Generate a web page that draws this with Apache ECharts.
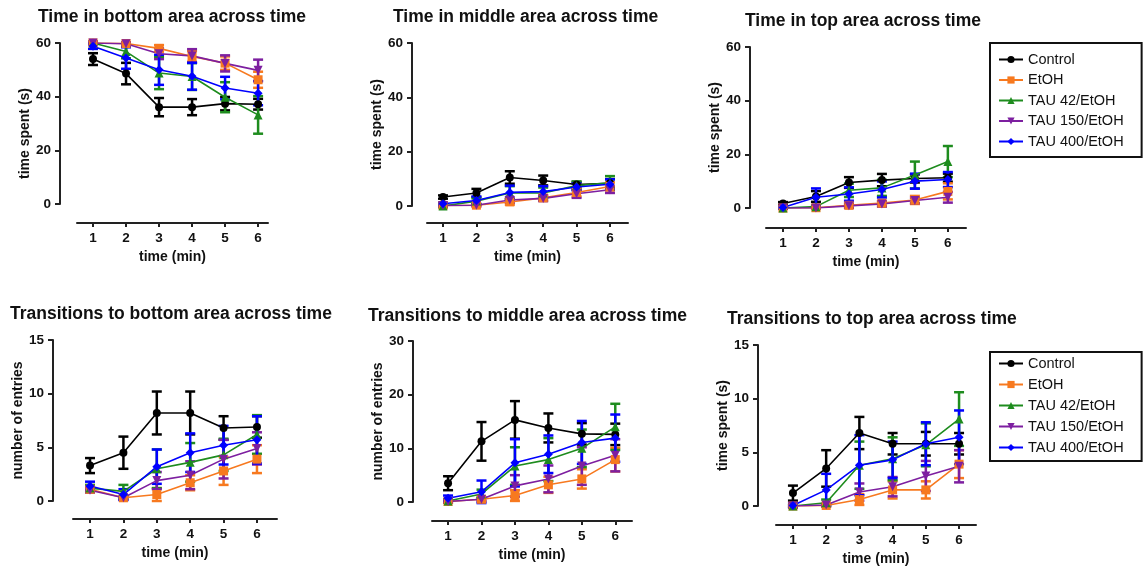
<!DOCTYPE html>
<html>
<head>
<meta charset="utf-8">
<script src="https://cdn.jsdelivr.net/npm/echarts@6/dist/echarts.min.js"></script>
<style>
  html, body { margin: 0; padding: 0; background: #fff; }
  #chart { width: 1144px; height: 570px; }
</style>
</head>
<body>
<div id="chart"></div>
<script>
"use strict";

const groups = ["Control", "EtOH", "TAU 42/EtOH", "TAU 150/EtOH", "TAU 400/EtOH"];
const minutes = [1, 2, 3, 4, 5, 6];

// Time in bottom area (s): means and SEM, one row per group
const bottomTimeMean = [
  [54, 48.6, 36.1, 36.1, 37.4, 37.2],
  [60, 59.8, 58, 55, 52.5, 46.3],
  [60, 56.8, 48.8, 47.5, 39.8, 33.2],
  [60, 59.7, 56, 55.2, 52.4, 49.8],
  [58.8, 54.4, 50, 47.6, 43.2, 41.3]
];
const bottomTimeErr = [
  [2.2, 4, 3.4, 3, 2.5, 2],
  [0.4, 0.5, 1.2, 2, 2.5, 3],
  [0.5, 2.5, 6, 5, 5.6, 7],
  [0.5, 0.6, 2, 2.5, 3, 4],
  [1, 4, 5.6, 5, 4.2, 4.5]
];

// Time in middle area (s)
const middleTimeMean = [
  [3.3, 4.8, 10.5, 9.4, 7.9, 8.4],
  [0.2, 0.3, 1.5, 3, 5, 7.2],
  [0, 1.8, 4.8, 4.8, 7.5, 8.5],
  [0.2, 0.3, 2.2, 2.8, 4.5, 6],
  [0.8, 2, 5, 5.3, 7, 8]
];
const middleTimeErr = [
  [0.6, 1.5, 2.3, 1.8, 1, 1.5],
  [0.3, 0.4, 1, 1, 1.5, 1.5],
  [0.5, 1, 2.5, 2, 1.5, 2.5],
  [0.3, 0.4, 1, 1, 1.5, 1.2],
  [0.5, 1.5, 2.5, 2, 1.3, 1.8]
];

// Time in top area (s)
const topTimeMean = [
  [1.7, 4.3, 9.5, 10.4, 11, 11.3],
  [0, 0.1, 1, 1.8, 3, 6.2],
  [0, 0.5, 6.6, 7.5, 12.3, 17.3],
  [0, 0, 0.8, 1.5, 2.8, 4],
  [0.2, 4, 5.2, 6.9, 10, 10.6]
];
const topTimeErr = [
  [0.5, 2, 2, 2.3, 1.5, 1.5],
  [0.2, 0.3, 0.8, 0.8, 1.5, 3],
  [0.2, 0.5, 2.5, 3, 5, 5.8],
  [0.2, 0.2, 0.8, 1, 1, 2],
  [0.5, 3.3, 2.5, 3, 2.8, 2.8]
];

// Transitions to bottom area (entries)
const bottomTransMean = [
  [3.3, 4.5, 8.2, 8.2, 6.8, 6.9],
  [1.1, 0.3, 0.6, 1.7, 2.8, 3.9],
  [1.2, 0.9, 3, 3.6, 4.3, 6.2],
  [1, 0.3, 1.9, 2.4, 3.9, 4.9],
  [1.4, 0.6, 3.2, 4.5, 5.2, 5.7]
];
const bottomTransErr = [
  [0.7, 1.5, 2, 2, 1.1, 1],
  [0.3, 0.1, 0.6, 0.7, 1.3, 1.3],
  [0.3, 0.6, 1.8, 1.8, 1.5, 1.8],
  [0.2, 0.2, 0.8, 1.3, 1.8, 1.5],
  [0.4, 0.5, 1.6, 1.8, 1.8, 2.2]
];

// Transitions to middle area (entries)
const middleTransMean = [
  [3.5, 11.3, 15.3, 13.8, 12.7, 12.6],
  [0.1, 0.5, 1.2, 3.2, 4.3, 7.9],
  [0.2, 1.5, 6.7, 7.9, 10, 14],
  [0.1, 0.5, 3, 4.3, 6.7, 8.7],
  [0.7, 1.9, 7.3, 8.9, 11.1, 11.9]
];
const middleTransErr = [
  [1.3, 3.6, 3.5, 2.7, 2, 2],
  [0.2, 0.4, 1, 1.5, 1.8, 2.2],
  [0.3, 0.8, 3.5, 4, 3.5, 4.3],
  [0.2, 0.3, 2, 2.5, 3.5, 3],
  [0.5, 2.1, 4.4, 3.5, 4, 4.4]
];

// Transitions to top area
const topTransMean = [
  [1.2, 3.5, 6.8, 5.8, 5.8, 5.8],
  [0, 0.05, 0.6, 1.5, 1.5, 3.9],
  [0, 0.3, 3.8, 4.4, 5.7, 8.1],
  [0, 0.1, 1.3, 1.8, 2.8, 3.7],
  [0.05, 1.5, 3.8, 4.3, 5.8, 6.4]
];
const topTransErr = [
  [0.7, 1.7, 1.5, 1, 1.1, 1],
  [0.1, 0.1, 0.5, 0.8, 0.8, 1.3],
  [0.1, 0.3, 2.2, 2, 2, 2.5],
  [0.1, 0.1, 0.8, 0.9, 1.4, 1.5],
  [0.2, 1.5, 2.8, 1.7, 2, 2.5]
];

const colors = ["#000000", "#f7791f", "#1e8c1e", "#7d1fa0", "#0000ff"];
const symbols = ["circle", "rect", "triangle", "triangle", "diamond"];
const symbolRotates = [0, 0, 0, 180, 0];

// panel layout: grid box, axis offsets, ranges
const panels = [
  { title: "Time in bottom area across time", tx: 38, ty: 8.5, yName: "time spent (s)", ymax: 60, yint: 20,
    left: 77, top: 43, width: 191, height: 161, yOff: 17, xOff: 19, xmin: 0.515, xmax: 6.3, namePad: 20, nameGap: 26.5,
    mean: bottomTimeMean, err: bottomTimeErr },
  { title: "Time in middle area across time", tx: 393, ty: 8.5, yName: "time spent (s)", ymax: 60, yint: 20,
    left: 427, top: 43, width: 201, height: 163, yOff: 15, xOff: 17, xmin: 0.52, xmax: 6.54, namePad: 0, nameGap: 26,
    mean: middleTimeMean, err: middleTimeErr },
  { title: "Time in top area across time", tx: 745, ty: 12.5, yName: "time spent (s)", ymax: 60, yint: 20,
    left: 766, top: 47, width: 200, height: 161, yOff: 16, xOff: 20, xmin: 0.485, xmax: 6.55, namePad: 0, nameGap: 26,
    mean: topTimeMean, err: topTimeErr },
  { title: "Transitions to bottom area across time", tx: 10, ty: 305.5, yName: "number of entries", ymax: 15, yint: 5,
    left: 73, top: 340, width: 204, height: 161, yOff: 20, xOff: 18, xmin: 0.49, xmax: 6.6, namePad: 0, nameGap: 23,
    mean: bottomTransMean, err: bottomTransErr },
  { title: "Transitions to middle area across time", tx: 368, ty: 307.5, yName: "number of entries", ymax: 30, yint: 10,
    left: 432, top: 341, width: 200, height: 161, yOff: 19, xOff: 19, xmin: 0.52, xmax: 6.5, namePad: 0, nameGap: 24,
    mean: middleTransMean, err: middleTransErr },
  { title: "Transitions to top area across time", tx: 727, ty: 310.5, yName: "time spent (s)", ymax: 15, yint: 5,
    left: 776, top: 345, width: 200, height: 161, yOff: 18, xOff: 19, xmin: 0.49, xmax: 6.51, namePad: 0, nameGap: 25,
    mean: topTransMean, err: topTransErr }
];

const font = "'Liberation Sans', Arial, sans-serif";
const axisLine = { show: true, onZero: false, lineStyle: { color: "#222", width: 2 } };

function errorBar(params, api) {
  const x = api.value(0);
  const m = api.value(1);
  const e = api.value(2);
  const hi = api.coord([x, m + e]);
  const lo = api.coord([x, m - e]);
  const w = 5;
  const style = { stroke: api.visual("color"), lineWidth: 2.5 };
  return {
    type: "group",
    children: [
      { type: "line", shape: { x1: hi[0], y1: hi[1], x2: lo[0], y2: lo[1] }, style: style },
      { type: "line", shape: { x1: hi[0] - w, y1: hi[1], x2: hi[0] + w, y2: hi[1] }, style: style },
      { type: "line", shape: { x1: lo[0] - w, y1: lo[1], x2: lo[0] + w, y2: lo[1] }, style: style }
    ]
  };
}

const titles = [], grids = [], xAxes = [], yAxes = [], series = [];

panels.forEach(function (p, i) {
  titles.push({
    text: p.title, left: p.tx, top: p.ty, padding: 0,
    textStyle: { fontFamily: font, fontSize: 17.5, fontWeight: "bold", color: "#111" }
  });
  grids.push({ left: p.left, top: p.top, width: p.width, height: p.height });
  xAxes.push({
    type: "value", gridIndex: i, min: p.xmin, max: p.xmax, offset: p.xOff,
    name: "time (min)", nameLocation: "middle", nameGap: 27,
    nameTextStyle: { fontFamily: font, fontSize: 14, fontWeight: "bold", color: "#111" },
    axisLine: axisLine,
    axisTick: { show: true, length: 4, lineStyle: { color: "#222", width: 2 }, customValues: minutes },
    axisLabel: { fontFamily: font, fontSize: 13.5, fontWeight: "bold", color: "#111", margin: 8, customValues: minutes },
    splitLine: { show: false }
  });
  yAxes.push({
    type: "value", gridIndex: i, min: 0, max: p.ymax, interval: p.yint, offset: p.yOff,
    name: p.yName, nameLocation: "middle", nameGap: p.nameGap, nameRotate: 90,
    nameTextStyle: { fontFamily: font, fontSize: 14, fontWeight: "bold", color: "#111",
      padding: [0, p.namePad, 0, 0] },
    axisLine: axisLine,
    axisTick: { show: true, length: 5, lineStyle: { color: "#222", width: 2 } },
    axisLabel: { fontFamily: font, fontSize: 13.5, fontWeight: "bold", color: "#111", margin: 9 },
    splitLine: { show: false }
  });
  groups.forEach(function (g, k) {
    const errData = minutes.map(function (m, j) { return [m, p.mean[k][j], p.err[k][j]]; });
    series.push({
      name: g + " SEM", type: "custom", xAxisIndex: i, yAxisIndex: i,
      renderItem: errorBar, data: errData, itemStyle: { color: colors[k] },
      encode: { x: 0, y: 1 }, z: 2, silent: true
    });
    series.push({
      name: g, type: "line", xAxisIndex: i, yAxisIndex: i,
      data: minutes.map(function (m, j) { return [m, p.mean[k][j]]; }),
      symbol: symbols[k], symbolRotate: symbolRotates[k], symbolSize: k === 0 ? 8 : 9,
      lineStyle: { color: colors[k], width: 1.6 },
      itemStyle: { color: colors[k] },
      z: 3, animation: false
    });
  });
});

const legendBase = {
  orient: "vertical", left: 990, data: groups,
  itemWidth: 24, itemHeight: 9,
  borderColor: "#111", borderWidth: 2, borderRadius: 0,
  textStyle: { fontFamily: font, fontSize: 14.5, color: "#111" }
};

const option = {
  animation: false,
  title: titles,
  grid: grids,
  xAxis: xAxes,
  yAxis: yAxes,
  legend: [
    Object.assign({}, legendBase, { top: 43, itemGap: 5.5, padding: [9, 18, 8, 8] }),
    Object.assign({}, legendBase, { top: 352, itemGap: 6, padding: [4, 18, 6, 8] })
  ],
  series: series
};

const myChart = echarts.init(document.getElementById("chart"));
myChart.setOption(option);
</script>
</body>
</html>
